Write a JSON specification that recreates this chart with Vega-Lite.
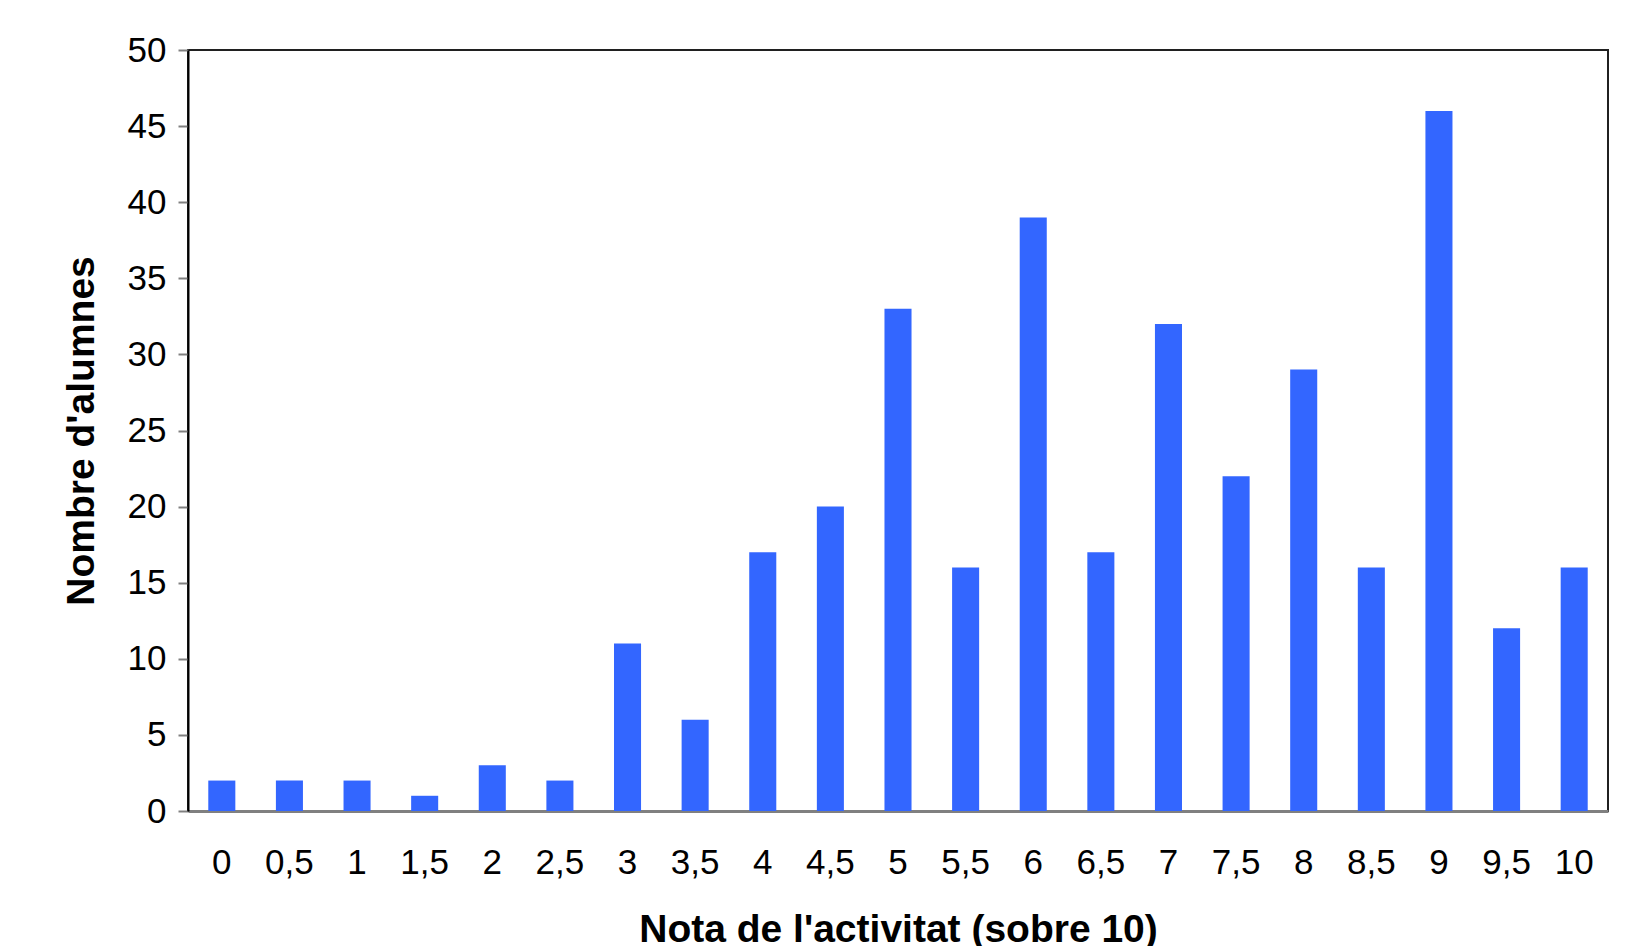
{
  "$schema": "https://vega.github.io/schema/vega-lite/v6.json",
  "width": 1420,
  "height": 761,
  "autosize": {"type": "none"},
  "padding": {"left": 188, "top": 50, "right": 32, "bottom": 135},
  "background": "white",
  "config": {
    "font": "Liberation Sans",
    "view": {"stroke": "#202020", "strokeWidth": 2}
  },
  "data": {
    "values": [
      {"nota": "0", "alumnes": 2},
      {"nota": "0,5", "alumnes": 2},
      {"nota": "1", "alumnes": 2},
      {"nota": "1,5", "alumnes": 1},
      {"nota": "2", "alumnes": 3},
      {"nota": "2,5", "alumnes": 2},
      {"nota": "3", "alumnes": 11},
      {"nota": "3,5", "alumnes": 6},
      {"nota": "4", "alumnes": 17},
      {"nota": "4,5", "alumnes": 20},
      {"nota": "5", "alumnes": 33},
      {"nota": "5,5", "alumnes": 16},
      {"nota": "6", "alumnes": 39},
      {"nota": "6,5", "alumnes": 17},
      {"nota": "7", "alumnes": 32},
      {"nota": "7,5", "alumnes": 22},
      {"nota": "8", "alumnes": 29},
      {"nota": "8,5", "alumnes": 16},
      {"nota": "9", "alumnes": 46},
      {"nota": "9,5", "alumnes": 12},
      {"nota": "10", "alumnes": 16}
    ]
  },
  "mark": {"type": "bar", "color": "#3366FF"},
  "encoding": {
    "x": {
      "field": "nota",
      "type": "ordinal",
      "sort": null,
      "scale": {"paddingInner": 0.6, "paddingOuter": 0.3},
      "axis": {
        "title": "Nota de l'activitat (sobre 10)",
        "titleFontSize": 39,
        "titleFontWeight": "bold",
        "titleColor": "black",
        "titlePadding": 30,
        "labelAngle": 0,
        "labelFontSize": 35,
        "labelColor": "black",
        "labelPadding": 34,
        "ticks": false,
        "domainColor": "#808080",
        "domainWidth": 3
      }
    },
    "y": {
      "field": "alumnes",
      "type": "quantitative",
      "scale": {"domain": [0, 50], "nice": false},
      "axis": {
        "title": "Nombre d'alumnes",
        "titleFontSize": 39,
        "titleFontWeight": "bold",
        "titleColor": "black",
        "titlePadding": 26,
        "values": [0, 5, 10, 15, 20, 25, 30, 35, 40, 45, 50],
        "labelFontSize": 35,
        "labelColor": "black",
        "labelPadding": 12,
        "tickSize": 10,
        "tickWidth": 2,
        "tickColor": "#808080",
        "domainColor": "black",
        "domainWidth": 2,
        "grid": false
      }
    }
  }
}
